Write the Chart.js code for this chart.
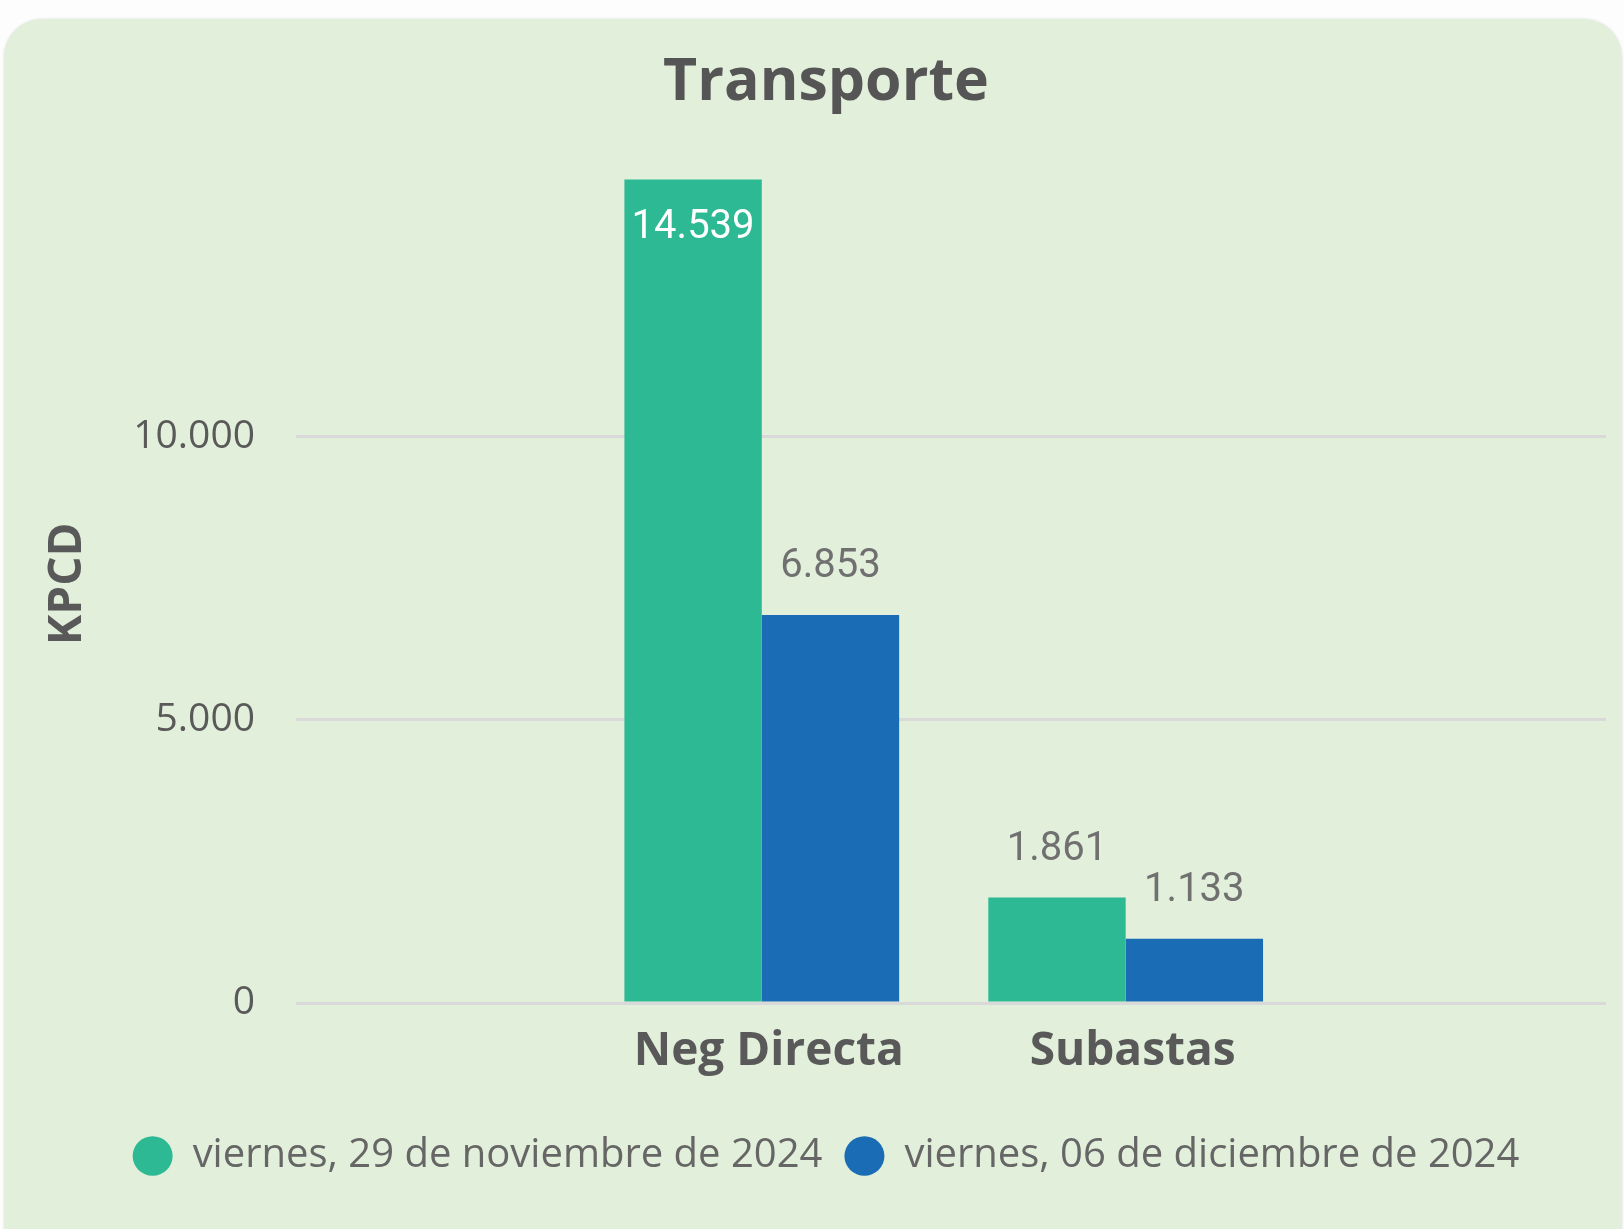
<!DOCTYPE html>
<html><head><meta charset="utf-8">
<script src="https://cdn.jsdelivr.net/npm/chart.js@4.4.1/dist/chart.umd.min.js"></script>
<style>
html,body{margin:0;padding:0;background:#fdfdfd;overflow:hidden;width:1624px;height:1229px;}
#card{position:absolute;left:4px;top:19px;width:1618px;height:1260px;background:#e2efda;border-radius:38px;box-shadow:0 0 3px rgba(0,0,0,0.12);}
#wrap{position:absolute;left:0;top:0;width:1618px;height:1210px;}
</style></head><body>
<div id="card"><div id="wrap"><canvas id="c"></canvas></div></div>
<script>
const categories = ['Neg Directa', 'Subastas'];
const seriesNames = ['viernes, 29 de noviembre de 2024', 'viernes, 06 de diciembre de 2024'];
const serie1 = [14539, 1861];
const serie2 = [6853, 1133];
const yTicks = [0, 5000, 10000];

const colors = ['#2cb994', '#1a6cb4'];
const fmt = v => String(v).replace(/\B(?=(\d{3})+(?!\d))/g, '.');

const valueLabels = {
  id: 'valueLabels',
  afterDatasetsDraw(chart) {
    const { ctx, chartArea } = chart;
    ctx.save();
    ctx.font = '40px Roboto';
    ctx.textAlign = 'center';
    ctx.textBaseline = 'middle';
    chart.data.datasets.forEach((ds, di) => {
      const meta = chart.getDatasetMeta(di);
      meta.data.forEach((bar, i) => {
        const txt = fmt(ds.data[i].y);
        let y = bar.y - 48, col = '#707070';
        if (bar.y - 80 < chartArea.top) { y = bar.y + 48; col = '#ffffff'; }
        ctx.fillStyle = col;
        ctx.fillText(txt, bar.x, y);
      });
    });
    ctx.restore();
  }
};

const toPoints = arr => arr.map((v, i) => ({ x: i, y: v }));

new Chart(document.getElementById('c'), {
  type: 'bar',
  data: {
    datasets: [
      { label: seriesNames[0], data: toPoints(serie1), backgroundColor: colors[0], categoryPercentage: 0.755, barPercentage: 1 },
      { label: seriesNames[1], data: toPoints(serie2), backgroundColor: colors[1], categoryPercentage: 0.755, barPercentage: 1 }
    ]
  },
  options: {
    responsive: true,
    maintainAspectRatio: false,
    animation: false,
    devicePixelRatio: 1,
    layout: { padding: { left: 42, right: 16, top: 0, bottom: 43 } },
    scales: {
      x: {
        type: 'linear',
        min: -1.28, max: 2.32,
        offset: false,
        afterBuildTicks: s => { s.ticks = categories.map((_, i) => ({ value: i })); },
        afterFit: s => { s.height = 111; },
        grid: { display: false, offset: false, drawTicks: false },
        border: { display: false },
        ticks: {
          autoSkip: false, maxRotation: 0,
          padding: 21,
          labelOffset: 7,
          color: '#595959',
          font: { family: 'Open Sans', weight: 'bold', size: 46, lineHeight: 1.2 },
          callback: v => categories[v] ?? ''
        }
      },
      y: {
        min: 0, max: 14800,
        afterBuildTicks: s => { s.ticks = yTicks.map(v => ({ value: v })); },
        afterFit: s => { s.width = 250; },
        grid: { color: '#d9d9d9', lineWidth: 3, drawTicks: false },
        border: { display: false },
        ticks: {
          padding: 41,
          color: '#595959',
          font: { family: 'Open Sans', size: 39 },
          callback: v => fmt(v)
        },
        title: {
          display: true, text: 'KPCD',
          color: '#595959',
          font: { family: 'Open Sans', weight: 'bold', size: 46 },
          padding: { top: -6, bottom: 0 }
        }
      }
    },
    plugins: {
      title: {
        display: true, text: 'Transporte',
        color: '#555555',
        font: { family: 'Open Sans', weight: 'bold', size: 59 },
        padding: { top: 29, bottom: 46 }
      },
      legend: {
        position: 'bottom',
        labels: {
          usePointStyle: true, pointStyle: 'circle', pointStyleWidth: 40, boxHeight: 28,
          color: '#666666', padding: 22,
          font: { family: 'Open Sans', size: 40 }
        }
      },
      tooltip: { enabled: false }
    }
  },
  plugins: [valueLabels]
});
</script>
</body></html>
